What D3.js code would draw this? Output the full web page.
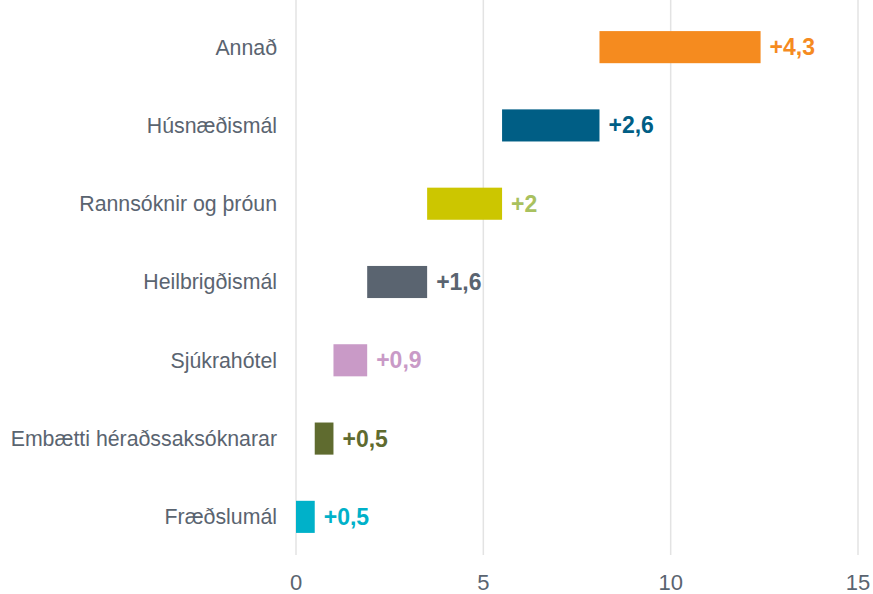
<!DOCTYPE html>
<html>
<head>
<meta charset="utf-8">
<script src="https://cdn.jsdelivr.net/npm/d3@7"></script>
<style>
  html, body { margin: 0; padding: 0; background: #fff; }
  svg { display: block; font-family: Arial, "Liberation Sans", sans-serif; }
</style>
</head>
<body>
<div id="chart"></div>
<script>
// categories top to bottom, increase of each one
const categories = ['Annað', 'Húsnæðismál', 'Rannsóknir og þróun', 'Heilbrigðismál',
  'Sjúkrahótel', 'Embætti héraðssaksóknarar', 'Fræðslumál'];
const changes = [4.3, 2.6, 2.0, 1.6, 0.9, 0.5, 0.5];
const labels = ['+4,3', '+2,6', '+2', '+1,6', '+0,9', '+0,5', '+0,5'];
const barColors = ['#F58B1F', '#005E85', '#CCC600', '#5A6470', '#C99AC7', '#5F6B2F', '#00B1C9'];
const labelColors = ['#F58B1F', '#005E85', '#A9C15F', '#5A6470', '#C99AC7', '#5F6B2F', '#00B1C9'];
const xTicks = [0, 5, 10, 15];

const width = 873;
const height = 594;

// waterfall: bottom row starts at zero, each row stacks on the ones below
const rows = categories.map((c, i) => ({ name: c, value: changes[i], label: labels[i],
  color: barColors[i], labelColor: labelColors[i] }));
let acc = 0;
for (let i = rows.length - 1; i >= 0; i--) {
  rows[i].start = acc;
  acc += rows[i].value;
  rows[i].end = acc;
}

const x = d3.scaleLinear().domain([0, 15]).range([296, 858]);
const y = d3.scaleBand()
  .domain(categories)
  .range([8, 556])
  .paddingInner(0.59)
  .paddingOuter(0.295);

const svg = d3.select('#chart')
  .append('svg')
  .attr('width', width)
  .attr('height', height);

// vertical grid lines
svg.append('g')
  .selectAll('line')
  .data(xTicks)
  .enter()
  .append('line')
  .attr('x1', d => x(d))
  .attr('x2', d => x(d))
  .attr('y1', 0)
  .attr('y2', 555)
  .attr('stroke', '#E3E3E3')
  .attr('stroke-width', 1.5);

// x tick labels
svg.append('g')
  .selectAll('text')
  .data(xTicks)
  .enter()
  .append('text')
  .attr('x', d => x(d))
  .attr('y', 590)
  .attr('text-anchor', 'middle')
  .attr('font-size', 22)
  .attr('fill', '#5A6470')
  .text(d => d);

// category labels
svg.append('g')
  .selectAll('text')
  .data(rows)
  .enter()
  .append('text')
  .attr('x', 277)
  .attr('y', d => y(d.name) + y.bandwidth() / 2)
  .attr('dy', '0.35em')
  .attr('text-anchor', 'end')
  .attr('font-size', 21.3)
  .attr('fill', '#5A6470')
  .text(d => d.name);

// floating bars
svg.append('g')
  .selectAll('rect')
  .data(rows)
  .enter()
  .append('rect')
  .attr('x', d => x(d.start))
  .attr('y', d => y(d.name))
  .attr('width', d => x(d.end) - x(d.start))
  .attr('height', y.bandwidth())
  .attr('fill', d => d.color);

// value labels
svg.append('g')
  .selectAll('text')
  .data(rows)
  .enter()
  .append('text')
  .attr('x', d => x(d.end) + 9)
  .attr('y', d => y(d.name) + y.bandwidth() / 2)
  .attr('dy', '0.35em')
  .attr('font-size', 23)
  .attr('font-weight', 'bold')
  .attr('fill', d => d.labelColor)
  .text(d => d.label);
</script>
</body>
</html>
